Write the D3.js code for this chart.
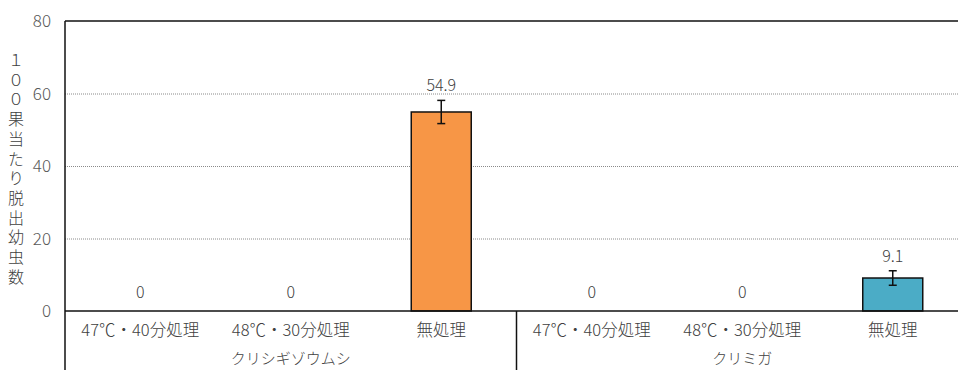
<!DOCTYPE html>
<html>
<head>
<meta charset="utf-8">
<script src="https://cdn.jsdelivr.net/npm/d3@7/dist/d3.min.js"></script>
<style>
  body { margin: 0; background: #fff; }
  svg { display: block; font-family: "Noto Sans CJK JP", "Noto Sans", sans-serif; }
</style>
</head>
<body>
<svg id="chart" width="958" height="370"></svg>
<script>
// data
const groups = ['クリシギゾウムシ', 'クリミガ'];
const treatments = ['47℃・40分処理', '48℃・30分処理', '無処理'];
const values = [
  [0, 0, 54.9],
  [0, 0, 9.1]
];
const errors = [
  [0, 0, 3.2],
  [0, 0, 2.0]
];
const labels = [
  ['0', '0', '54.9'],
  ['0', '0', '9.1']
];
const groupColors = ['#F79646', '#4BACC6'];
const yTicks = [0, 20, 40, 60, 80];
const yTitle = '１００果当たり脱出幼虫数';

const svg = d3.select('#chart');
const margin = { left: 65, top: 21, bottom: 311 };
const plotRight = 968;

const rows = [];
groups.forEach((g, gi) => {
  treatments.forEach((t, ti) => {
    rows.push({ key: gi + '-' + ti, group: g, gi, label: t, value: values[gi][ti], err: errors[gi][ti], text: labels[gi][ti] });
  });
});

const xScale = d3.scaleBand()
  .domain(rows.map(d => d.key))
  .range([margin.left, plotRight])
  .paddingInner(0.6)
  .paddingOuter(0.3);
const bandStep = xScale.step();

const yScale = d3.scaleLinear()
  .domain([0, 80])
  .range([margin.bottom, margin.top]);

// gridlines
svg.append('g')
  .selectAll('line')
  .data(yTicks.filter(t => t > 0 && t < 80))
  .enter().append('line')
  .attr('x1', margin.left)
  .attr('x2', plotRight)
  .attr('y1', d => yScale(d) + 0.5)
  .attr('y2', d => yScale(d) + 0.5)
  .attr('stroke', '#8a8a8a')
  .attr('stroke-width', 1)
  .attr('stroke-dasharray', '1,1');

// tick labels
svg.append('g')
  .selectAll('text')
  .data(yTicks)
  .enter().append('text')
  .attr('x', 51)
  .attr('y', d => yScale(d) + 6)
  .attr('text-anchor', 'end')
  .attr('font-size', 17)
  .attr('font-weight', 300)
  .attr('fill', '#595959')
  .text(d => d);

// y title, vertical upright text
svg.append('text')
  .attr('x', 16)
  .attr('y', 52)
  .style('writing-mode', 'vertical-rl')
  .style('text-orientation', 'upright')
  .style('letter-spacing', '3.7px')
  .attr('font-size', 16)
  .attr('font-weight', 300)
  .attr('fill', '#404040')
  .text(yTitle);

// bars
const barW = 60;
svg.append('g')
  .selectAll('rect')
  .data(rows.filter(d => d.value > 0))
  .enter().append('rect')
  .attr('x', d => xScale(d.key) + xScale.bandwidth() / 2 - barW / 2)
  .attr('y', d => yScale(d.value))
  .attr('width', barW)
  .attr('height', d => yScale(0) - yScale(d.value))
  .attr('fill', d => groupColors[d.gi])
  .attr('stroke', '#111')
  .attr('stroke-width', 1.5);

// error bars
const eb = svg.append('g').attr('stroke', '#111').attr('stroke-width', 1.5);
rows.filter(d => d.err > 0).forEach(d => {
  const cx = xScale(d.key) + xScale.bandwidth() / 2;
  const y1 = yScale(d.value + d.err);
  const y2 = yScale(d.value - d.err);
  eb.append('line').attr('x1', cx).attr('x2', cx).attr('y1', y1).attr('y2', y2);
  eb.append('line').attr('x1', cx - 4).attr('x2', cx + 4).attr('y1', y1).attr('y2', y1);
  eb.append('line').attr('x1', cx - 4).attr('x2', cx + 4).attr('y1', y2).attr('y2', y2);
});

// value labels
svg.append('g')
  .selectAll('text')
  .data(rows)
  .enter().append('text')
  .attr('x', d => xScale(d.key) + xScale.bandwidth() / 2)
  .attr('y', d => Math.min(yScale(d.value + d.err) - 9, yScale(0) - 13))
  .attr('text-anchor', 'middle')
  .attr('font-size', 16)
  .attr('font-weight', 300)
  .attr('fill', '#404040')
  .text(d => d.text);

// plot frame
const axes = svg.append('g').attr('stroke', '#111').attr('stroke-width', 1.5).attr('fill', 'none');
axes.append('line').attr('x1', margin.left).attr('x2', plotRight).attr('y1', margin.top).attr('y2', margin.top);
axes.append('line').attr('x1', margin.left).attr('x2', plotRight).attr('y1', yScale(0)).attr('y2', yScale(0));
axes.append('line').attr('x1', margin.left).attr('x2', margin.left).attr('y1', margin.top).attr('y2', 372);
// group separator
groups.forEach((g, gi) => {
  if (gi === 0) return;
  const sx = margin.left + bandStep * treatments.length * gi;
  axes.append('line').attr('x1', sx).attr('x2', sx).attr('y1', yScale(0)).attr('y2', 372);
});

// category labels
svg.append('g')
  .selectAll('text')
  .data(rows)
  .enter().append('text')
  .attr('x', d => xScale(d.key) + xScale.bandwidth() / 2)
  .attr('y', 336)
  .attr('text-anchor', 'middle')
  .attr('font-size', 16.5)
  .attr('font-weight', 300)
  .attr('fill', '#404040')
  .text(d => d.label);

// group labels
svg.append('g')
  .selectAll('text')
  .data(groups)
  .enter().append('text')
  .attr('x', (d, i) => margin.left + bandStep * treatments.length * (i + 0.5))
  .attr('y', 364)
  .attr('text-anchor', 'middle')
  .attr('font-size', 15)
  .attr('font-weight', 300)
  .attr('fill', '#404040')
  .text(d => d);
</script>
</body>
</html>
